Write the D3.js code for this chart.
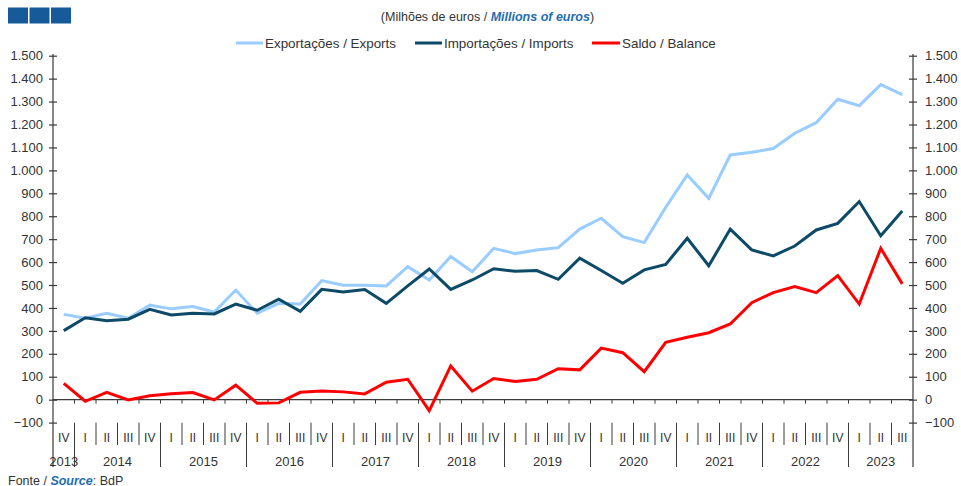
<!DOCTYPE html>
<html>
<head>
<meta charset="utf-8">
<script src="https://cdn.jsdelivr.net/npm/d3@7"></script>
<style>
  html, body { margin: 0; padding: 0; background: #fff; }
  svg { display: block; font-family: "Liberation Sans", Arial, sans-serif; }
</style>
</head>
<body>
<svg id="chart" width="961" height="486"></svg>
<script>
// ---- Data ----
const categories = [
  "2013-IV",
  "2014-I","2014-II","2014-III","2014-IV",
  "2015-I","2015-II","2015-III","2015-IV",
  "2016-I","2016-II","2016-III","2016-IV",
  "2017-I","2017-II","2017-III","2017-IV",
  "2018-I","2018-II","2018-III","2018-IV",
  "2019-I","2019-II","2019-III","2019-IV",
  "2020-I","2020-II","2020-III","2020-IV",
  "2021-I","2021-II","2021-III","2021-IV",
  "2022-I","2022-II","2022-III","2022-IV",
  "2023-I","2023-II","2023-III"
];
const years = ["2013","2014","2015","2016","2017","2018","2019","2020","2021","2022","2023"];
const exportsVals = [372,355,377,355,412,396,406,382,478,377,420,417,519,499,499,496,580,522,624,558,660,637,653,663,744,791,711,685,839,980,878,1067,1079,1095,1162,1208,1310,1282,1374,1330];
const importsVals = [301,357,344,351,394,369,377,374,417,390,438,385,481,470,480,420,496,570,481,522,571,560,563,525,617,563,508,566,590,704,584,744,653,627,670,740,769,864,715,823];
const balanceVals = [71,-7,32,-1,17,26,31,-1,63,-16,-14,32,38,34,25,76,89,-48,147,37,92,79,89,135,130,225,205,122,250,272,292,330,423,467,493,467,541,417,660,505];
const yTicks = [-100,0,100,200,300,400,500,600,700,800,900,1000,1100,1200,1300,1400,1500];
const seriesNames = ["Exportações / Exports","Importações / Imports","Saldo / Balance"];
const seriesColors = ["#99ccff","#0d4a68","#ff0000"];

// ---- Layout ----
const svg = d3.select("#chart");
const left = 53, right = 913;
const x = d3.scaleBand().domain(categories).range([left, right]).paddingInner(0).paddingOuter(0);
const y = d3.scaleLinear().domain([-100, 1500]).range([422.6, 55.7]);
const axisColor = "#3a3a3a";
const textColor = "#333";
const fmt = v => d3.format(",")(v).replace(/,/g, ".");

// Header squares
[8, 29.5, 51].forEach(sx => {
  svg.append("rect").attr("x", sx).attr("y", 7.5).attr("width", 20).attr("height", 16).attr("fill", "#175a99");
});

// Subtitle
const sub = svg.append("text").attr("x", 487.5).attr("y", 21).attr("text-anchor", "middle")
  .attr("font-size", 12.5).attr("fill", textColor);
sub.append("tspan").text("(Milhões de euros / ");
sub.append("tspan").attr("font-weight", "bold").attr("font-style", "italic").attr("fill", "#1f6db3").text("Millions of euros");
sub.append("tspan").text(")");

// Legend
const legendItems = [
  {x0: 236, x1: 263, tx: 265},
  {x0: 415, x1: 442, tx: 444},
  {x0: 592, x1: 620, tx: 622}
];
legendItems.forEach((d, i) => {
  svg.append("line").attr("x1", d.x0).attr("x2", d.x1).attr("y1", 43).attr("y2", 43)
    .attr("stroke", seriesColors[i]).attr("stroke-width", 3);
  svg.append("text").attr("x", d.tx).attr("y", 47.5).attr("font-size", 13.4).attr("fill", textColor)
    .text(seriesNames[i]);
});

// Left and right axes
const axisBottom = 467;
[left, right].forEach(ax => {
  svg.append("line").attr("x1", ax).attr("x2", ax).attr("y1", 54).attr("y2", axisBottom)
    .attr("stroke", axisColor).attr("stroke-width", 1.2);
});
const yAxisL = d3.axisLeft(y).tickValues(yTicks).tickSize(0).tickFormat(fmt);
const gL = svg.append("g").attr("transform", `translate(${left},0)`).call(yAxisL);
gL.select(".domain").remove();
gL.selectAll("text").attr("x", -10).attr("font-size", 13).attr("fill", textColor).attr("font-family", "Liberation Sans, Arial, sans-serif");
gL.selectAll(".tick").append("line").attr("x1", -4).attr("x2", 4).attr("stroke", axisColor).attr("stroke-width", 1.2);

const yAxisR = d3.axisRight(y).tickValues(yTicks).tickSize(0).tickFormat(fmt);
const gR = svg.append("g").attr("transform", `translate(${right},0)`).call(yAxisR);
gR.select(".domain").remove();
gR.selectAll("text").attr("x", 12).attr("font-size", 13).attr("fill", textColor).attr("font-family", "Liberation Sans, Arial, sans-serif");
gR.selectAll(".tick").append("line").attr("x1", -4).attr("x2", 4).attr("stroke", axisColor).attr("stroke-width", 1.2);

// Zero line with ticks at category boundaries
const y0 = y(0);
svg.append("line").attr("x1", left).attr("x2", right).attr("y1", y0).attr("y2", y0)
  .attr("stroke", axisColor).attr("stroke-width", 1.2);
categories.forEach((c, i) => {
  if (i === 0) return;
  const bx = x(c);
  svg.append("line").attr("x1", bx).attr("x2", bx).attr("y1", y0).attr("y2", y0 + 4)
    .attr("stroke", axisColor).attr("stroke-width", 1);
});

// Category labels and separators
const sepTop = 422.7;
categories.forEach((c, i) => {
  const [yr, q] = c.split("-");
  svg.append("text").attr("x", x(c) + x.bandwidth() / 2).attr("y", 442)
    .attr("text-anchor", "middle").attr("font-size", 12).attr("fill", textColor).text(q);
  if (i > 0) {
    const prevYr = categories[i - 1].split("-")[0];
    const isYear = prevYr !== yr;
    svg.append("line").attr("x1", x(c)).attr("x2", x(c)).attr("y1", sepTop)
      .attr("y2", isYear ? axisBottom : 445).attr("stroke", axisColor).attr("stroke-width", 1);
  }
});
years.forEach(yr => {
  const idx = categories.map((c, i) => c.startsWith(yr + "-") ? i : -1).filter(i => i >= 0);
  const cx = d3.mean(idx, i => x(categories[i]) + x.bandwidth() / 2);
  svg.append("text").attr("x", cx).attr("y", 465.5).attr("text-anchor", "middle")
    .attr("font-size", 13).attr("fill", textColor).text(yr);
});

// Lines
const line = d3.line().x((d, i) => x(categories[i]) + x.bandwidth() / 2).y(d => y(d));
[exportsVals, importsVals, balanceVals].forEach((vals, k) => {
  svg.append("path").datum(vals).attr("d", line).attr("fill", "none")
    .attr("stroke", seriesColors[k]).attr("stroke-width", 3).attr("stroke-linejoin", "miter");
});

// Source
const src = svg.append("text").attr("x", 8).attr("y", 484.5).attr("font-size", 12.5).attr("fill", textColor);
src.append("tspan").text("Fonte / ");
src.append("tspan").attr("font-weight", "bold").attr("font-style", "italic").attr("fill", "#1f6db3").text("Source");
src.append("tspan").text(": BdP");
</script>
</body>
</html>
